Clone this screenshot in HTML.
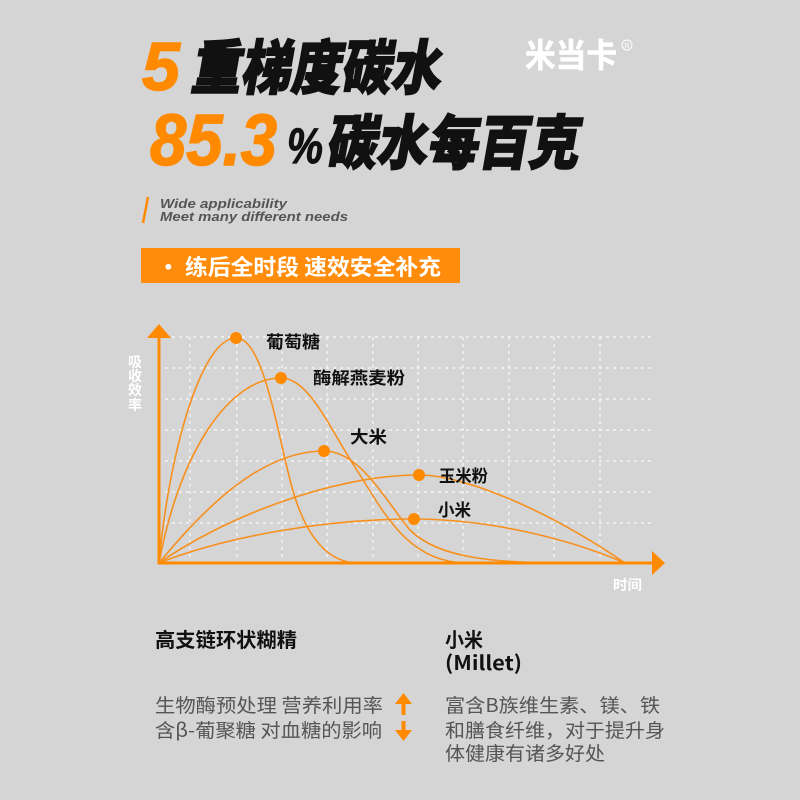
<!DOCTYPE html>
<html><head><meta charset="utf-8"><style>
html,body{margin:0;padding:0;background:#d5d5d5;}
svg{display:block;}
text{font-family:"Liberation Sans","Noto Sans CJK SC",sans-serif;}
.cjk{font-family:"Noto Sans CJK SC","WenQuanYi Zen Hei",sans-serif;}
</style></head><body>
<svg width="800" height="800" viewBox="0 0 800 800" xmlns="http://www.w3.org/2000/svg">
<rect width="800" height="800" fill="#d5d5d5"/>

<!-- Title line 1 -->
<text x="142" y="90" font-size="68" font-weight="bold" font-style="italic" fill="#ff8a00" stroke="#ff8a00" stroke-width="1.5">5</text>
<g transform="translate(190,89) skewX(-10)">
<text class="cjk" x="0" y="0" font-size="59" font-weight="900" fill="#111" stroke="#111" stroke-width="1.6" textLength="250" lengthAdjust="spacingAndGlyphs">重梯度碳水</text>
</g>
<!-- Title line 2 -->
<text x="150" y="165" font-size="72" font-weight="bold" font-style="italic" fill="#ff8a00" stroke="#ff8a00" stroke-width="1.5" textLength="127" lengthAdjust="spacingAndGlyphs">85.3</text>
<text x="287" y="163" font-size="50" font-weight="bold" font-style="italic" fill="#111" stroke="#111" stroke-width="1" textLength="36" lengthAdjust="spacingAndGlyphs">%</text>
<g transform="translate(325,164) skewX(-10)">
<text class="cjk" x="0" y="0" font-size="59" font-weight="900" fill="#111" stroke="#111" stroke-width="1.6" textLength="253" lengthAdjust="spacingAndGlyphs">碳水每百克</text>
</g>

<!-- Logo -->
<text class="cjk" x="525" y="67" font-size="33" font-weight="bold" fill="#fff" stroke="#fff" stroke-width="0.6" textLength="92" lengthAdjust="spacingAndGlyphs">米当卡</text>
<circle cx="627" cy="45" r="5" fill="none" stroke="#fff" stroke-width="1"/>
<text x="627" y="48" font-size="7" fill="#fff" text-anchor="middle">R</text>

<!-- Subtitle -->
<line x1="148" y1="197" x2="143" y2="223" stroke="#ff8a00" stroke-width="2.5"/>
<text x="160" y="208" font-size="12.5" font-weight="bold" font-style="italic" fill="#555" textLength="127" lengthAdjust="spacingAndGlyphs">Wide applicability</text>
<text x="160" y="221" font-size="12.5" font-weight="bold" font-style="italic" fill="#555" textLength="188" lengthAdjust="spacingAndGlyphs">Meet many different needs</text>

<!-- Banner -->
<rect x="141" y="248" width="319" height="35" fill="#ff8c0a"/>
<text class="cjk" x="157" y="275" font-size="22" font-weight="bold" fill="#fff" textLength="284" lengthAdjust="spacingAndGlyphs">· 练后全时段 速效安全补充</text>

<!-- Grid -->
<g stroke="#f4f4f4" stroke-width="1.4" stroke-dasharray="3,4" fill="none">
<line x1="165" y1="337" x2="653" y2="337"/>
<line x1="165" y1="368" x2="653" y2="368"/>
<line x1="165" y1="399" x2="653" y2="399"/>
<line x1="165" y1="430" x2="653" y2="430"/>
<line x1="165" y1="461" x2="653" y2="461"/>
<line x1="165" y1="492" x2="653" y2="492"/>
<line x1="165" y1="523" x2="653" y2="523"/>
<line x1="190" y1="337" x2="190" y2="560"/>
<line x1="237" y1="337" x2="237" y2="560"/>
<line x1="282" y1="337" x2="282" y2="560"/>
<line x1="327" y1="337" x2="327" y2="560"/>
<line x1="373" y1="337" x2="373" y2="560"/>
<line x1="418" y1="337" x2="418" y2="560"/>
<line x1="463" y1="337" x2="463" y2="560"/>
<line x1="509" y1="337" x2="509" y2="560"/>
<line x1="554" y1="337" x2="554" y2="560"/>
<line x1="600" y1="337" x2="600" y2="560"/>
</g>

<!-- Curves -->
<g stroke="#f7901e" stroke-width="1.6" fill="none">
<path d="M159,563 C168,460 200,338 236,338 C262,338 275,420 290,480 C305,540 330,563 358,563"/>
<path d="M159,563 C180,450 230,378 281,378 C310,378 330,430 360,475 C385,515 410,563 467,563"/>
<path d="M159,563 C195,520 255,451 324,451 C360,451 385,500 410,530 C440,560 500,563 575,563"/>
<path d="M159,563 C220,520 330,475 419,475 C460,475 540,505 625,563"/>
<path d="M159,563 C230,535 330,519 414,519 C480,519 560,535 625,563"/>
</g>
<g fill="#ff8a00">
<circle cx="236" cy="338" r="6"/>
<circle cx="281" cy="378" r="6"/>
<circle cx="324" cy="451" r="6"/>
<circle cx="419" cy="475" r="6"/>
<circle cx="414" cy="519" r="6"/>
</g>

<!-- Axes -->
<g stroke="#ff8a00" stroke-width="3" fill="none">
<line x1="159" y1="564" x2="159" y2="336"/>
<line x1="158" y1="563" x2="654" y2="563"/>
</g>
<polygon points="159,324 147,338 171,338" fill="#ff8a00"/>
<polygon points="665,563 652,551 652,575" fill="#ff8a00"/>

<!-- Chart labels -->
<g class="cjk" font-weight="bold" fill="#111" font-size="17">
<text class="cjk" x="266" y="348" textLength="54" lengthAdjust="spacingAndGlyphs">葡萄糖</text>
<text class="cjk" x="313" y="384" textLength="92" lengthAdjust="spacingAndGlyphs">酶解燕麦粉</text>
<text class="cjk" x="350" y="443" textLength="37" lengthAdjust="spacingAndGlyphs">大米</text>
<text class="cjk" x="439" y="482" textLength="49" lengthAdjust="spacingAndGlyphs">玉米粉</text>
<text class="cjk" x="438" y="516" textLength="33" lengthAdjust="spacingAndGlyphs">小米</text>
</g>
<g class="cjk" font-weight="bold" fill="#fff" font-size="14" text-anchor="middle">
<text class="cjk" x="135" y="367">吸</text>
<text class="cjk" x="135" y="381">收</text>
<text class="cjk" x="135" y="395">效</text>
<text class="cjk" x="135" y="410">率</text>
</g>
<text class="cjk" x="613" y="590" font-size="14" font-weight="bold" fill="#fff" textLength="29" lengthAdjust="spacingAndGlyphs">时间</text>

<!-- Bottom left -->
<text class="cjk" x="155" y="647" font-size="20" font-weight="bold" fill="#111" textLength="142" lengthAdjust="spacingAndGlyphs">高支链环状糊精</text>
<text class="cjk" x="155" y="712" font-size="19" fill="#555" textLength="228" lengthAdjust="spacingAndGlyphs">生物酶预处理 营养利用率</text>
<text class="cjk" x="155" y="737" font-size="19" fill="#555" textLength="227" lengthAdjust="spacingAndGlyphs">含β-葡聚糖 对血糖的影响</text>
<g fill="#ff8a00">
<polygon points="403.5,693 395,704 412,704"/>
<rect x="401.5" y="703" width="4" height="12"/>
<rect x="401.5" y="721" width="4" height="11"/>
<polygon points="395,730 412,730 403.5,741"/>
</g>

<!-- Bottom right -->
<text class="cjk" x="445" y="647" font-size="20" font-weight="bold" fill="#111" textLength="38" lengthAdjust="spacingAndGlyphs">小米</text>
<text class="cjk" x="445" y="670" font-size="20" font-weight="bold" fill="#111" textLength="77" lengthAdjust="spacingAndGlyphs">(Millet)</text>
<text class="cjk" x="445" y="712" font-size="19" fill="#555" textLength="215" lengthAdjust="spacingAndGlyphs">富含B族维生素、镁、铁</text>
<text class="cjk" x="445" y="737" font-size="19" fill="#555" textLength="220" lengthAdjust="spacingAndGlyphs">和膳食纤维，对于提升身</text>
<text class="cjk" x="445" y="760" font-size="19" fill="#555" textLength="160" lengthAdjust="spacingAndGlyphs">体健康有诸多好处</text>
</svg>
</body></html>
